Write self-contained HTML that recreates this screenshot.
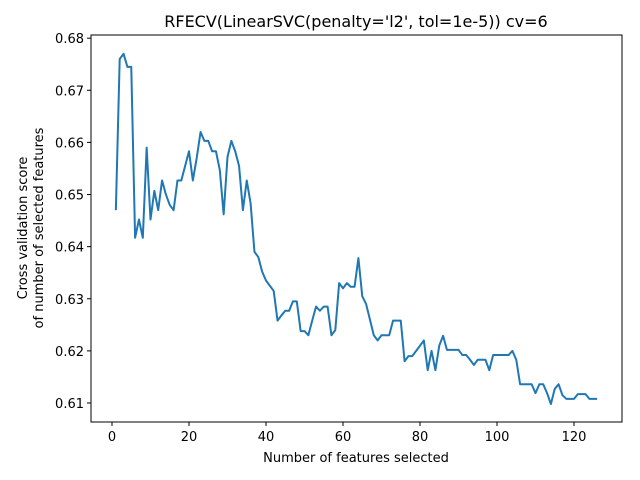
<!DOCTYPE html>
<html><head><meta charset="utf-8"><style>
html,body{margin:0;padding:0;background:#fff;}
svg{display:block;font-family:"DejaVu Sans","Liberation Sans",sans-serif;}
</style></head><body>
<svg id="chart" width="640" height="480">
<rect width="640" height="480" fill="#fff"/>
<text x="356" y="27" font-size="16" text-anchor="middle">RFECV(LinearSVC(penalty='l2', tol=1e-5)) cv=6</text>
<text x="356" y="462" font-size="13" text-anchor="middle">Number of features selected</text>
<g transform="translate(27,228) rotate(-90)">
<text x="0" y="0" font-size="13" text-anchor="middle">Cross validation score</text>
<text x="0" y="16" font-size="13" text-anchor="middle">of number of selected features</text>
</g>
<g id="ticks"></g>
<path id="line" fill="none" stroke="#1f77b4" stroke-width="2" stroke-linejoin="round"/>
<rect x="91" y="35" width="531" height="387" fill="none" stroke="#000" stroke-width="1"/>
</svg>
<script>
const scores = [0.647,0.676,0.677,0.6745,0.6745,0.6417,0.6452,0.6417,0.659,0.6452,
0.6507,0.647,0.6527,0.650,0.648,0.647,0.6527,0.6527,0.6555,0.6583,
0.6527,0.657,0.662,0.6603,0.6603,0.6583,0.6583,0.6547,0.6462,0.6572,
0.6603,0.6583,0.6555,0.647,0.6527,0.6483,0.639,0.638,0.6352,0.6335,
0.6325,0.6315,0.6258,0.6268,0.6277,0.6277,0.6295,0.6295,0.6238,0.6238,
0.623,0.6258,0.6285,0.6277,0.6285,0.6285,0.623,0.624,0.633,0.632,
0.633,0.6323,0.6323,0.6378,0.6305,0.629,0.626,0.623,0.622,0.623,
0.623,0.623,0.6258,0.6258,0.6258,0.618,0.619,0.619,0.620,0.621,
0.622,0.6163,0.620,0.6163,0.621,0.6229,0.6202,0.6202,0.6202,0.6202,
0.6192,0.6192,0.6183,0.6173,0.6183,0.6183,0.6183,0.6163,0.6192,0.6192,
0.6192,0.6192,0.6192,0.620,0.6183,0.6136,0.6136,0.6136,0.6136,0.6119,
0.6136,0.6136,0.6119,0.6098,0.6127,0.6136,0.6115,0.6108,0.6108,0.6108,
0.6117,0.6117,0.6117,0.6108,0.6108,0.6108];
const xTicks = [0,20,40,60,80,100,120];
const yTicks = [0.61,0.62,0.63,0.64,0.65,0.66,0.67,0.68];
const yTickLabels = ["0.61","0.62","0.63","0.64","0.65","0.66","0.67","0.68"];

function xs(v){return 112 + v*3.85;}
function ys(v){return 403 - (v-0.61)*5212;}
const NS="http://www.w3.org/2000/svg";
const g=document.getElementById('ticks');
xTicks.forEach(t=>{
  const l=document.createElementNS(NS,'line');
  l.setAttribute('x1',xs(t));l.setAttribute('x2',xs(t));l.setAttribute('y1',422);l.setAttribute('y2',426);l.setAttribute('stroke','#000');
  
  
  g.appendChild(l);
  const tx=document.createElementNS(NS,'text');
  tx.setAttribute('x',xs(t));tx.setAttribute('y',441);tx.setAttribute('font-size','13');tx.setAttribute('text-anchor','middle');
  tx.textContent=t;
  
  
  g.appendChild(tx);
});
yTicks.forEach((t,i)=>{
  const l=document.createElementNS(NS,'line');
  l.setAttribute('x1',87);l.setAttribute('x2',91);l.setAttribute('y1',ys(t));l.setAttribute('y2',ys(t));l.setAttribute('stroke','#000');
  
  
  g.appendChild(l);
  const tx=document.createElementNS(NS,'text');
  tx.setAttribute('x',84);tx.setAttribute('y',ys(t)+5);tx.setAttribute('font-size','13');tx.setAttribute('text-anchor','end');
  tx.textContent=yTickLabels[i];
  
  
  g.appendChild(tx);
});
document.getElementById('line').setAttribute('d',scores.map((v,i)=>(i?'L':'M')+xs(i+1).toFixed(2)+','+ys(v).toFixed(2)).join(' '));
</script>
</body></html>
